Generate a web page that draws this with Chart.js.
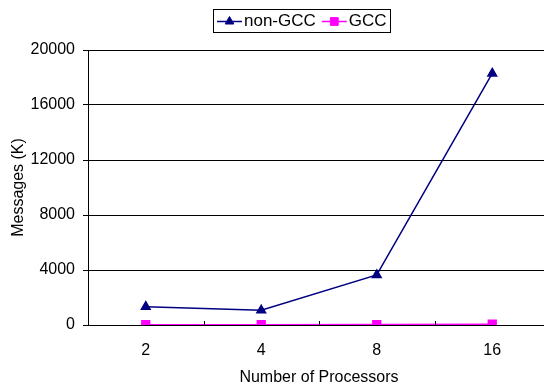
<!DOCTYPE html>
<html>
<head>
<meta charset="utf-8">
<script src="https://cdn.jsdelivr.net/npm/chart.js@4/dist/chart.umd.min.js"></script>
<style>
  html, body { margin: 0; padding: 0; background: #fff; overflow: hidden; }
  #wrap { width: 544px; height: 387px; overflow: hidden; }
  canvas { display: block; }
</style>
</head>
<body>
<div id="wrap"><canvas id="c" width="550" height="387"></canvas></div>
<script>
// Processor counts on the x axis
const processors = ['2', '4', '8', '16'];
// Messages exchanged, in thousands
const nonGccMessages = [1330, 1070, 3640, 18300];
const gccMessages = [20, 20, 30, 60];
// Y axis range
const yMin = 0;
const yMax = 20000;
const yStep = 4000;

const FONT = 'Liberation Sans, Arial, sans-serif';
const TICK_SIZE = 16;
const TITLE_SIZE = 16;
const LEGEND_SIZE = 17;

// Legend in a framed box above the plot
const boxedLegend = {
  id: 'boxedLegend',
  afterDraw(chart) {
    const ctx = chart.ctx;
    const items = chart.data.datasets;
    ctx.save();
    ctx.font = LEGEND_SIZE + 'px ' + FONT;
    const lineLen = 25, gap = 2, itemGap = 6, padL = 4, padR = 3;
    const widths = items.map(d => ctx.measureText(d.label).width);
    let total = padL + padR;
    widths.forEach((w, i) => { total += lineLen + gap + w + (i ? itemGap : 0); });
    const h = 23;
    const x0 = 213, y0 = 9;
    ctx.strokeStyle = '#000';
    ctx.lineWidth = 1;
    ctx.strokeRect(x0 + 0.5, y0 + 0.5, Math.round(total), h);
    let x = x0 + padL;
    const cy = y0 + h / 2 + 1;
    items.forEach((d, i) => {
      if (i) x += itemGap;
      ctx.strokeStyle = d.borderColor;
      ctx.lineWidth = 1.5;
      ctx.beginPath();
      ctx.moveTo(x, cy);
      ctx.lineTo(x + lineLen, cy);
      ctx.stroke();
      ctx.fillStyle = d.pointBackgroundColor;
      ctx.strokeStyle = d.pointBorderColor;
      ctx.lineWidth = 1;
      Chart.helpers.drawPoint(ctx, {
        pointStyle: d.pointStyle, radius: d.pointRadius, rotation: 0, borderWidth: 1
      }, x + lineLen / 2, cy);
      x += lineLen + gap;
      ctx.fillStyle = '#000';
      ctx.textBaseline = 'middle';
      ctx.textAlign = 'left';
      ctx.fillText(d.label, x, cy);
      x += widths[i];
    });
    ctx.restore();
  }
};

// Short inward tick marks between categories on the x axis
const categoryTicks = {
  id: 'categoryTicks',
  afterDatasetsDraw(chart) {
    const xs = chart.scales.x;
    const ctx = chart.ctx;
    const bottom = chart.chartArea.bottom;
    ctx.save();
    ctx.strokeStyle = '#000';
    ctx.lineWidth = 1;
    for (let i = 0; i < processors.length - 1; i++) {
      const px = Math.round((xs.getPixelForValue(i) + xs.getPixelForValue(i + 1)) / 2) + 0.5;
      ctx.beginPath();
      ctx.moveTo(px, bottom);
      ctx.lineTo(px, bottom - 4);
      ctx.stroke();
    }
    ctx.restore();
  }
};

new Chart(document.getElementById('c'), {
  type: 'line',
  data: {
    labels: processors,
    datasets: [
      {
        label: 'non-GCC',
        data: nonGccMessages,
        borderColor: '#000080',
        backgroundColor: '#000080',
        pointBackgroundColor: '#000080',
        pointBorderColor: '#000080',
        pointStyle: 'triangle',
        pointRadius: 5,
        borderWidth: 1.5,
        tension: 0
      },
      {
        label: 'GCC',
        data: gccMessages,
        borderColor: '#FF00FF',
        backgroundColor: '#FF00FF',
        pointBackgroundColor: '#FF00FF',
        pointBorderColor: '#FF00FF',
        pointStyle: 'rect',
        pointRadius: 5.5,
        borderWidth: 1.5,
        tension: 0
      }
    ]
  },
  options: {
    responsive: false,
    animation: false,
    layout: { autoPadding: false, padding: { top: 50, right: 0, left: 0, bottom: 0 } },
    plugins: { legend: { display: false }, tooltip: { enabled: false } },
    scales: {
      x: {
        offset: true,
        grid: { display: false },
        border: { display: true, color: '#000', width: 1 },
        ticks: { color: '#000', font: { family: FONT, size: TICK_SIZE }, padding: 8, maxRotation: 0 },
        title: {
          display: true, text: 'Number of Processors', color: '#000',
          font: { family: FONT, size: TITLE_SIZE }, padding: { top: 0, bottom: 0 }
        },
        afterFit(s) {
          s.height = 62;
          s.paddingLeft = 0;
          s.paddingRight = 0;
        }
      },
      y: {
        min: yMin, max: yMax,
        grid: { color: '#000', lineWidth: 1, tickLength: 5, drawTicks: true },
        border: { display: true, color: '#000', width: 1 },
        ticks: {
          stepSize: yStep, color: '#000', font: { family: FONT, size: TICK_SIZE }, padding: 8,
          callback: v => String(v)
        },
        title: {
          display: true, text: 'Messages (K)', color: '#000',
          font: { family: FONT, size: TITLE_SIZE }, padding: { top: 9, bottom: 0 }
        },
        afterFit(s) {
          s.width = 88;
          s.paddingTop = 0;
          s.paddingBottom = 0;
        }
      }
    }
  },
  plugins: [boxedLegend, categoryTicks]
});
</script>
</body>
</html>
